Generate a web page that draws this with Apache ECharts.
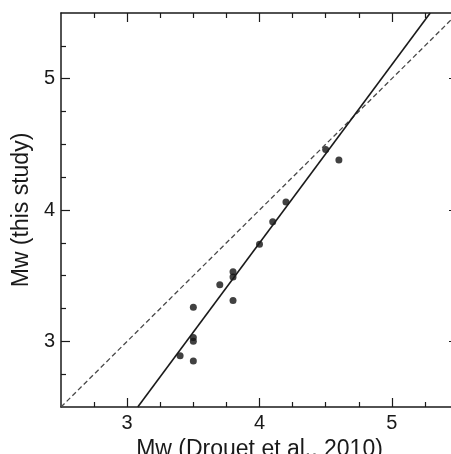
<!DOCTYPE html>
<html>
<head>
<meta charset="utf-8">
<script src="https://cdn.jsdelivr.net/npm/echarts@6/dist/echarts.min.js"></script>
<style>
  html, body { margin: 0; padding: 0; background: #fff; }
  #chart { width: 451px; height: 454px; }
</style>
</head>
<body>
<div id="chart"></div>
<script>
// Magnitudes: reference catalogue (x) vs. this study (y)
const mwDrouet = [3.4, 3.5, 3.5, 3.5, 3.5, 3.7, 3.8, 3.8, 3.8, 4.0, 4.1, 4.2, 4.5, 4.6];
const mwThisStudy = [2.89, 2.85, 3.00, 3.03, 3.26, 3.43, 3.49, 3.53, 3.31, 3.74, 3.91, 4.06, 4.46, 4.38];

// Regression line end points and the 1:1 reference line
const fitX = [3.08, 5.29];
const fitY = [2.5, 5.5];
const oneToOneX = [2.5, 5.5];
const oneToOneY = [2.5, 5.5];

// Axis range and tick positions
const axisMin = 2.5;
const axisMax = 5.5;
const majorTicks = [3, 4, 5];
const minorTicks = [2.75, 3.25, 3.5, 3.75, 4.25, 4.5, 4.75, 5.25];

const xTitle = 'Mw (Drouet et al., 2010)';
const yTitle = 'Mw (this study)';

const INK = '#1a1a1a';
const FONT = '"Liberation Sans", Arial, sans-serif';

function axis(position, ticks, len, withLabels, withLine, extra) {
  return Object.assign({
    type: 'value',
    gridIndex: 0,
    position: position,
    min: axisMin,
    max: axisMax,
    splitLine: { show: false },
    axisLine: { show: withLine, onZero: false, lineStyle: { color: INK, width: 1.5 } },
    axisTick: {
      show: true, inside: true, length: len,
      customValues: ticks,
      lineStyle: { color: INK, width: 1.2 }
    },
    axisLabel: withLabels ? {
      show: true, customValues: ticks, margin: 6,
      fontFamily: FONT, fontSize: 20, color: INK
    } : { show: false }
  }, extra || {});
}

const pairs = mwDrouet.map((x, i) => [x, mwThisStudy[i]]);
const fitLine = fitX.map((x, i) => [x, fitY[i]]);
const refLine = oneToOneX.map((x, i) => [x, oneToOneY[i]]);

const chart = echarts.init(document.getElementById('chart'), null, { renderer: 'canvas' });
chart.setOption({
  animation: false,
  backgroundColor: '#fff',
  grid: {
    left: 61, top: 13, width: 397, height: 394,
    containLabel: false, outerBoundsMode: 'none'
  },
  xAxis: [
    axis('bottom', majorTicks, 9, true, true, {
      name: xTitle, nameLocation: 'middle', nameGap: 28,
      nameTextStyle: { fontFamily: FONT, fontSize: 23, color: INK }
    }),
    axis('bottom', minorTicks, 5, false, false),
    axis('top', majorTicks, 9, false, true),
    axis('top', minorTicks, 5, false, false)
  ],
  yAxis: [
    axis('left', majorTicks, 9, true, true, {
      name: yTitle, nameLocation: 'middle', nameGap: 20, nameRotate: 90,
      nameTextStyle: { fontFamily: FONT, fontSize: 23, color: INK }
    }),
    axis('left', minorTicks, 5, false, false),
    axis('right', majorTicks, 9, false, true),
    axis('right', minorTicks, 5, false, false)
  ],
  series: [
    {
      type: 'line', data: refLine, xAxisIndex: 0, yAxisIndex: 0,
      symbol: 'none', silent: true,
      lineStyle: { color: '#4a4a4a', width: 1.3, type: [5, 3] }
    },
    {
      type: 'line', data: fitLine, xAxisIndex: 0, yAxisIndex: 0,
      symbol: 'none', silent: true,
      lineStyle: { color: INK, width: 1.6 }
    },
    {
      type: 'scatter', data: pairs, xAxisIndex: 0, yAxisIndex: 0,
      symbol: 'circle', symbolSize: 7,
      itemStyle: { color: '#111' }
    }
  ]
});
</script>
</body>
</html>
